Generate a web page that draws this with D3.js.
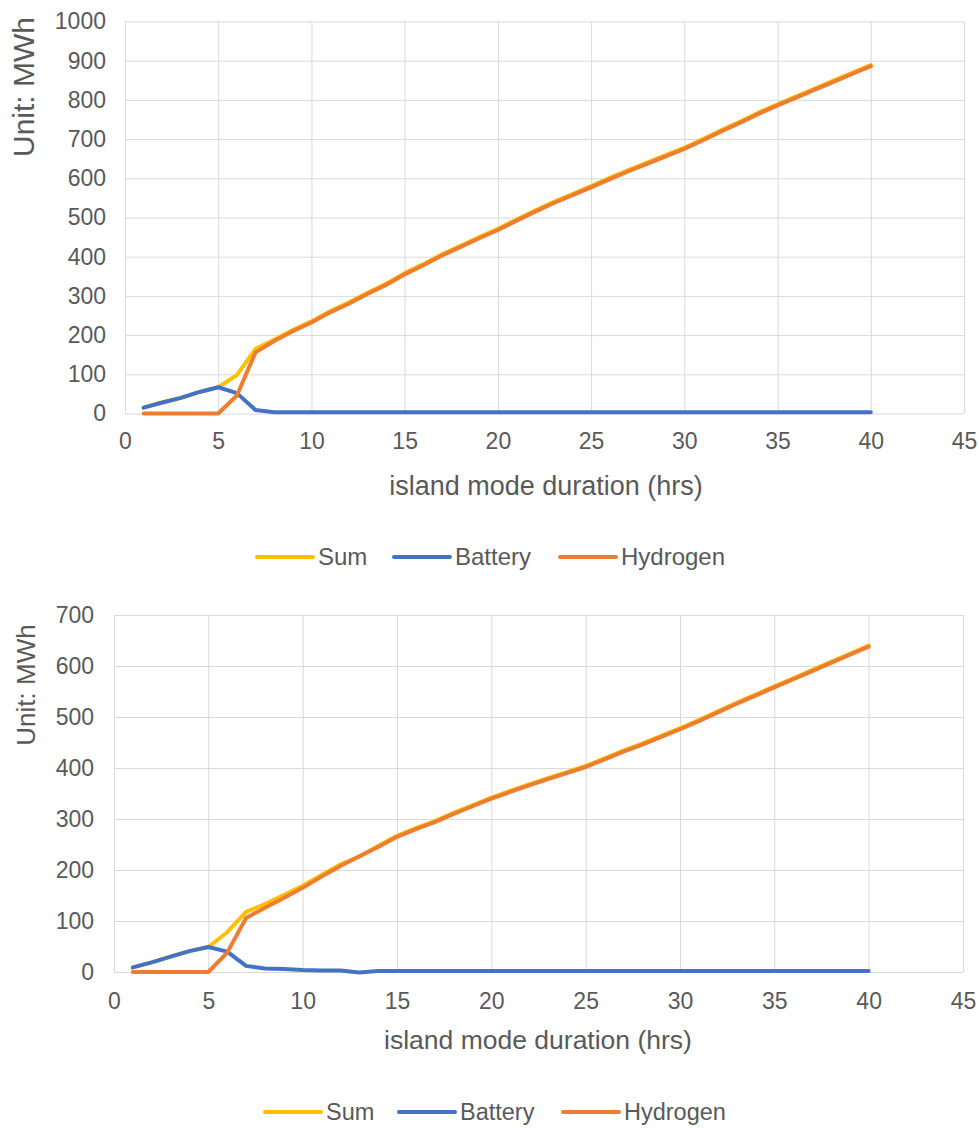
<!DOCTYPE html>
<html>
<head>
<meta charset="utf-8">
<script src="https://cdn.jsdelivr.net/npm/d3@7/dist/d3.min.js"></script>
<style>
  html, body { margin: 0; padding: 0; background: #ffffff; }
  svg { display: block; }
  text { font-family: "Liberation Sans", Arial, sans-serif; fill: #595959; }
</style>
</head>
<body>
<svg id="chart" width="979" height="1128"></svg>
<script>
// Island-mode duration (hours)
const hours = [1,2,3,4,5,6,7,8,9,10,11,12,13,14,15,16,17,18,19,20,
               21,22,23,24,25,26,27,28,29,30,31,32,33,34,35,36,37,38,39,40];

// Upper panel: storage capacity (MWh)
const upperSum      = [15,28,40,55,67,98,165,188,213,235,261,283,308,331,358,381,406,428,450,471,
                       495,518,540,560,580,601,621,640,659,678,700,723,745,768,789,809,829,849,869,889];
const upperBattery  = [15,28,40,55,67,52,9,3,3,3,3,3,3,3,3,3,3,3,3,3,
                       3,3,3,3,3,3,3,3,3,3,3,3,3,3,3,3,3,3,3,3];
const upperHydrogen = [0,0,0,0,0,46,156,185,210,232,258,280,305,328,355,378,403,425,447,468,
                       492,515,537,557,577,598,618,637,656,675,697,720,742,765,786,806,826,846,866,886];

// Lower panel: storage capacity (MWh)
const lowerSum      = [9,19,30,41,49,78,118,133,151,169,190,211,226,247,267,282,296,312,327,342,
                       355,368,380,392,404,419,434,448,463,478,494,511,528,544,560,576,592,608,624,640];
const lowerBattery  = [9,19,30,41,49,40,12,7,6,4,3,3,-1,2,2,2,2,2,2,2,
                       2,2,2,2,2,2,2,2,2,2,2,2,2,2,2,2,2,2,2,2];
const lowerHydrogen = [0,0,0,0,0,38,106,126,145,165,187,208,227,245,265,280,294,310,325,340,
                       353,366,378,390,402,417,432,446,461,476,492,509,526,542,558,574,590,606,622,638];

// Axis ticks
const xTicks = [0,5,10,15,20,25,30,35,40,45];
const upperYTicks = [0,100,200,300,400,500,600,700,800,900,1000];
const lowerYTicks = [0,100,200,300,400,500,600,700];

const seriesNames = ["Sum", "Battery", "Hydrogen"];
const seriesColors = ["#FFC000", "#4472C4", "#ED7D31"];

const svg = d3.select("#chart");
const plain = d3.format("d");

function drawPanel(cfg) {
  const g = svg.append("g");
  const x = d3.scaleLinear().domain([0, 45]).range([cfg.left, cfg.right]);
  const y = d3.scaleLinear().domain([0, cfg.yMax]).range([cfg.bottom, cfg.top]);

  // horizontal gridlines
  g.append("g")
    .attr("transform", `translate(${cfg.left},0)`)
    .call(d3.axisLeft(y).tickValues(cfg.yTicks).tickSize(-(cfg.right - cfg.left)).tickFormat(""))
    .call(a => a.select(".domain").remove())
    .call(a => a.selectAll("line").attr("stroke", "#d9d9d9").attr("stroke-width", 1));

  // vertical gridlines
  g.append("g")
    .attr("transform", `translate(0,${cfg.bottom})`)
    .call(d3.axisBottom(x).tickValues(xTicks).tickSize(-(cfg.bottom - cfg.top)).tickFormat(""))
    .call(a => a.select(".domain").remove())
    .call(a => a.selectAll("line").attr("stroke", "#d9d9d9").attr("stroke-width", 1));

  // y tick labels
  g.append("g")
    .attr("transform", `translate(${cfg.yLabelX},0)`)
    .call(d3.axisLeft(y).tickValues(cfg.yTicks).tickSize(0).tickPadding(0).tickFormat(plain))
    .call(a => a.select(".domain").remove())
    .call(a => a.selectAll("text")
      .attr("font-size", cfg.tickSize)
      .attr("font-family", '"Liberation Sans", Arial, sans-serif')
      .attr("fill", "#595959"));

  // x tick labels
  g.append("g")
    .attr("transform", `translate(0,${cfg.xLabelY})`)
    .call(d3.axisBottom(x).tickValues(xTicks).tickSize(0).tickPadding(0).tickFormat(plain))
    .call(a => a.select(".domain").remove())
    .call(a => a.selectAll("text")
      .attr("dy", 0)
      .attr("font-size", cfg.tickSize)
      .attr("font-family", '"Liberation Sans", Arial, sans-serif')
      .attr("fill", "#595959"));

  // axis titles
  g.append("text")
    .attr("x", cfg.xTitleCenter)
    .attr("y", cfg.xTitleY)
    .attr("text-anchor", "middle")
    .attr("font-size", cfg.xTitleSize)
    .text("island mode duration (hrs)");

  g.append("text")
    .attr("transform", `translate(${cfg.yTitleX},${cfg.yTitleY}) rotate(-90)`)
    .attr("text-anchor", "middle")
    .attr("font-size", cfg.yTitleSize)
    .text("Unit: MWh");

  // series lines
  const line = d3.line().x((d, i) => x(hours[i])).y(d => y(d));
  cfg.series.forEach((vals, k) => {
    g.append("path")
      .datum(vals)
      .attr("fill", "none")
      .attr("stroke", seriesColors[k])
      .attr("stroke-width", 4)
      .attr("stroke-linejoin", "round")
      .attr("stroke-linecap", "round")
      .attr("d", line);
  });

  // legend
  const leg = g.append("g");
  cfg.legendX.forEach((lx, k) => {
    leg.append("line")
      .attr("x1", lx).attr("x2", lx + 56)
      .attr("y1", cfg.legendY).attr("y2", cfg.legendY)
      .attr("stroke", seriesColors[k])
      .attr("stroke-width", 4)
      .attr("stroke-linecap", "round");
    leg.append("text")
      .attr("x", lx + 61)
      .attr("y", cfg.legendY + 8)
      .attr("font-size", cfg.legendSize)
      .text(seriesNames[k]);
  });
}

drawPanel({
  left: 125, right: 964, top: 21.5, bottom: 413.5, yMax: 1000,
  yTicks: upperYTicks,
  series: [upperSum, upperBattery, upperHydrogen],
  yLabelX: 106, xLabelY: 449, tickSize: 23,
  xTitleCenter: 546, xTitleY: 495, xTitleSize: 27,
  yTitleX: 34, yTitleY: 87, yTitleSize: 30,
  legendX: [257, 394, 560], legendY: 557, legendSize: 24
});

drawPanel({
  left: 114, right: 963, top: 615, bottom: 972, yMax: 700,
  yTicks: lowerYTicks,
  series: [lowerSum, lowerBattery, lowerHydrogen],
  yLabelX: 94, xLabelY: 1009, tickSize: 23,
  xTitleCenter: 538, xTitleY: 1049, xTitleSize: 26.5,
  yTitleX: 35, yTitleY: 685, yTitleSize: 26,
  legendX: [265, 399, 563], legendY: 1112, legendSize: 23.5
});
</script>
</body>
</html>
